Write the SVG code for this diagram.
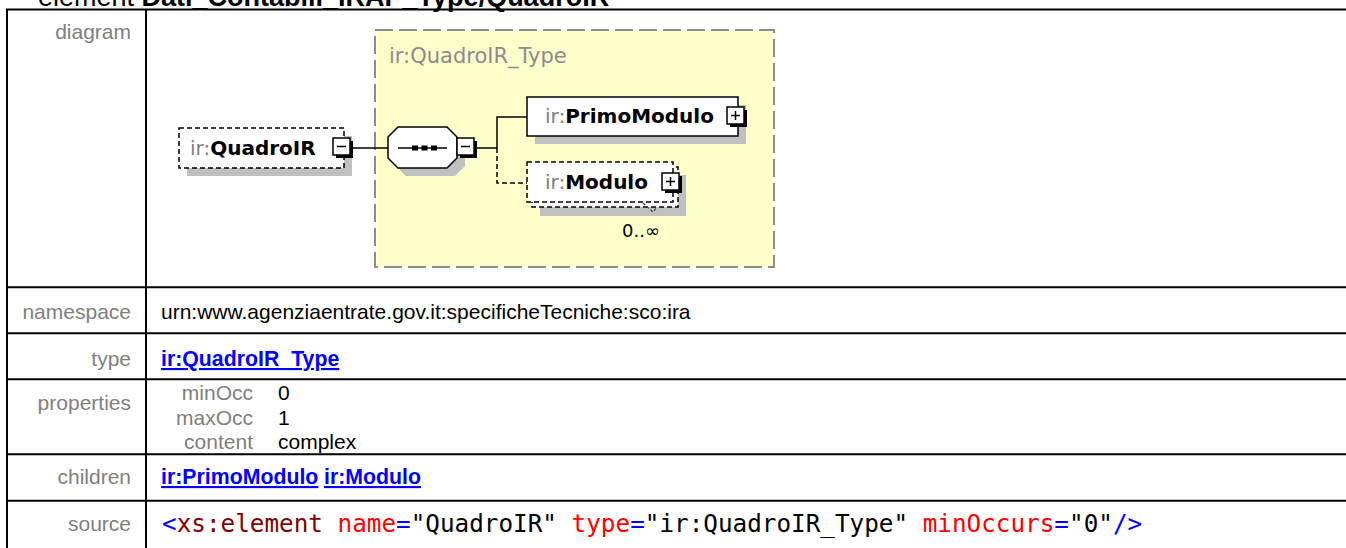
<svg xmlns="http://www.w3.org/2000/svg" width="1346" height="548" viewBox="0 0 1346 548">
<style>
.lbl{font-family:"Liberation Sans",Arial,sans-serif;font-size:21px;fill:#808080;text-anchor:end}
.val{font-family:"Liberation Sans",Arial,sans-serif;font-size:21px;fill:#000}
.lnk{font-family:"Liberation Sans",Arial,sans-serif;font-size:21.3px;font-weight:bold;fill:#0000ff;text-decoration:underline}
.grid{stroke:#000;stroke-width:2;fill:none}
.src{font-family:"DejaVu Sans Mono","Liberation Mono",monospace;font-size:24.3px;fill:#000}
.dg{font-family:"DejaVu Sans","Liberation Sans",sans-serif;font-size:20px}
.pfx{fill:#808080}
.nm{fill:#000;font-weight:bold}
.shadow{fill:#c0c0c0}
.box{fill:#fff;stroke:#000;stroke-width:1.5}
.dbox{fill:#fff;stroke:#000;stroke-width:1.5;stroke-dasharray:5 3}
.wire{stroke:#000;stroke-width:1.5;fill:none}
.dwire{stroke:#000;stroke-width:1.5;fill:none;stroke-dasharray:5 3}
</style>
<defs>
<g id="minus">
<rect x="3" y="3" width="17" height="17" fill="#000"/>
<rect x="0" y="0" width="17" height="17" fill="#fff" stroke="#000" stroke-width="1.5"/>
<path d="M4,8.5 H13" stroke="#000" stroke-width="1.5"/>
</g>
<g id="plus">
<rect x="3" y="3" width="17" height="17" fill="#000"/>
<rect x="0" y="0" width="17" height="17" fill="#fff" stroke="#000" stroke-width="1.5"/>
<path d="M4,8.5 H13 M8.5,4 V13" stroke="#000" stroke-width="1.5"/>
</g>
</defs>
<rect x="0" y="0" width="1346" height="548" fill="#fff"/>

<g id="heading">
<text x="38" y="6" font-family="Liberation Sans, Arial, sans-serif" font-size="27" fill="#000">element <tspan font-weight="bold">Dati_Contabili_IRAP_Type/QuadroIR</tspan></text>
</g>

<g id="table">
<path class="grid" d="M6,9.5 H1346 M7,9.5 V548 M146,9.5 V548 M7,287.3 H1346 M7,333.3 H1346 M7,379.3 H1346 M7,454.3 H1346 M7,500.7 H1346"/>
<text class="lbl" x="131" y="39">diagram</text>
<text class="lbl" x="131" y="319">namespace</text>
<text class="val" x="161" y="319">urn:www.agenziaentrate.gov.it:specificheTecniche:sco:ira</text>
<text class="lbl" x="131" y="366">type</text>
<text class="lnk" x="161" y="366">ir:QuadroIR_Type</text>
<text class="lbl" x="131" y="410">properties</text>
<text class="lbl" x="253" y="400">minOcc</text>
<text class="val" x="278" y="400">0</text>
<text class="lbl" x="253" y="425">maxOcc</text>
<text class="val" x="278" y="425">1</text>
<text class="lbl" x="253" y="449">content</text>
<text class="val" x="278" y="449">complex</text>
<text class="lbl" x="131" y="484">children</text>
<text class="lnk" x="161" y="484">ir:PrimoModulo</text>
<text class="lnk" x="324" y="484">ir:Modulo</text>
<text class="lbl" x="131" y="531">source</text>
<text class="src" x="162" y="532"><tspan fill="#0000ff">&lt;</tspan><tspan fill="#800000">xs:element</tspan><tspan fill="#ff0000"> name</tspan><tspan fill="#0000ff">=</tspan>"QuadroIR"<tspan fill="#ff0000"> type</tspan><tspan fill="#0000ff">=</tspan>"ir:QuadroIR_Type"<tspan fill="#ff0000"> minOccurs</tspan><tspan fill="#0000ff">=</tspan>"0"<tspan fill="#0000ff">/&gt;</tspan></text>
</g>

<g id="complexType">
<rect x="375" y="30" width="399" height="237" fill="#ffffcc" stroke="#8c8c8c" stroke-width="2" stroke-dasharray="18 6"/>
<text class="dg" x="389" y="63" fill="#8c8c8c" style="font-size:21px">ir:QuadroIR_Type</text>
</g>

<g id="connectors">
<path class="wire" d="M352,148 H388"/>
<path class="wire" d="M476,148 H497 M497,148 V117 H527"/>
<path class="dwire" d="M497,148 V183 H527"/>
</g>

<g id="node-QuadroIR">
<rect class="shadow" x="187" y="136" width="165" height="40"/>
<rect class="dbox" x="179" y="128" width="165" height="40"/>
<text class="dg" x="190" y="155"><tspan class="pfx">ir:</tspan><tspan class="nm">QuadroIR</tspan></text>
<use href="#minus" x="333" y="138"/>
</g>

<g id="node-sequence">
<polygon class="shadow" points="406,135 455,135 465,145 465,166 455,176 406,176 396,166 396,145"/>
<polygon class="box" points="398,127 447,127 457,137 457,158 447,168 398,168 388,158 388,137"/>
<path d="M398,148 H447" stroke="#000" stroke-width="1.5"/>
<rect x="412" y="145.5" width="6" height="5" fill="#000"/>
<rect x="421.5" y="145.5" width="6" height="5" fill="#000"/>
<rect x="431" y="145.5" width="6" height="5" fill="#000"/>
<use href="#minus" x="457" y="138"/>
</g>

<g id="node-PrimoModulo">
<rect class="shadow" x="535" y="105" width="211" height="39"/>
<rect class="box" x="527" y="97" width="211" height="39"/>
<text class="dg" x="545" y="123"><tspan class="pfx">ir:</tspan><tspan class="nm">PrimoModulo</tspan></text>
<use href="#plus" x="727" y="107"/>
</g>

<g id="node-Modulo">
<rect class="shadow" x="540" y="175" width="146" height="41"/>
<rect class="dbox" x="532" y="167" width="146" height="40"/>
<rect class="dbox" x="527" y="162" width="146" height="40"/>
<text class="dg" x="545" y="189"><tspan class="pfx">ir:</tspan><tspan class="nm">Modulo</tspan></text>
<use href="#plus" x="662" y="173"/>
<path d="M643,203 L653,212 L657,207" fill="none" stroke="#444" stroke-width="1.2" stroke-dasharray="3 2"/>
<text class="dg" x="622" y="237" fill="#000" style="font-size:18px">0..∞</text>
</g>
</svg>
